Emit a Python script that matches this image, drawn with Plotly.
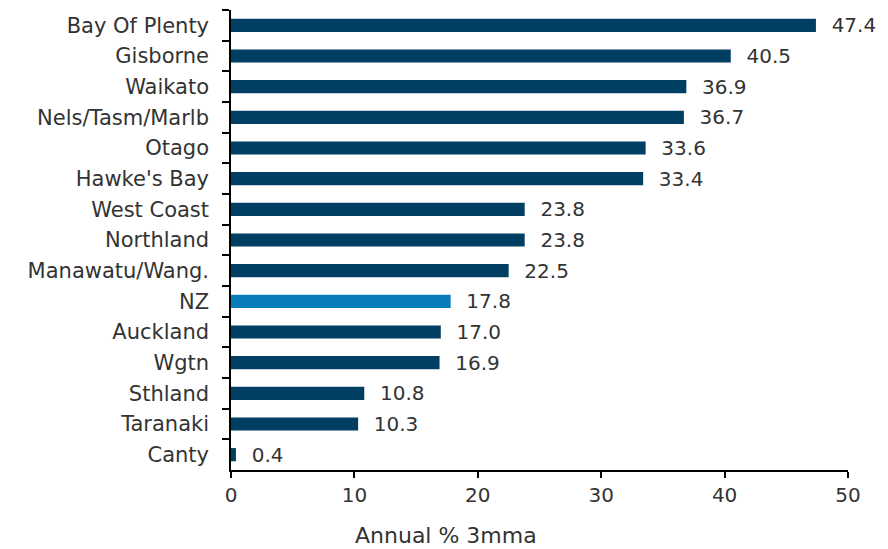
import plotly.graph_objects as go

regions = ["Bay Of Plenty", "Gisborne", "Waikato", "Nels/Tasm/Marlb", "Otago", "Hawke's Bay",
           "West Coast", "Northland", "Manawatu/Wang.", "NZ", "Auckland", "Wgtn", "Sthland",
           "Taranaki", "Canty"]
values = [47.4, 40.5, 36.9, 36.7, 33.6, 33.4, 23.8, 23.8, 22.5, 17.8, 17.0, 16.9, 10.8, 10.3, 0.4]
x_ticks = [0, 10, 20, 30, 40, 50]

navy = "#013F62"
light = "#0A7CBA"
colors = [light if r == "NZ" else navy for r in regions]

font_family = "DejaVu Sans"
text_col = "#333333"
fs = 20

fig = go.Figure(go.Bar(
    y=regions, x=values, orientation="h",
    marker=dict(color=colors, line=dict(width=0)),
    text=["  " + f"{v:.1f}" for v in values],
    textposition="outside", cliponaxis=False, constraintext="none",
    textfont=dict(family=font_family, size=fs, color=text_col),
))

fig.update_layout(
    width=880, height=541,
    margin=dict(l=223, r=40, t=2, b=79),
    paper_bgcolor="white", plot_bgcolor="white",
    bargap=0.57, showlegend=False,
    font=dict(family=font_family, size=fs, color=text_col),
)
fig.update_yaxes(
    autorange="reversed", showline=True, linecolor="black", linewidth=1.5,
    ticks="outside", tickson="boundaries", ticklen=7, tickcolor="black", tickwidth=1.5,
    showgrid=False, ticklabelstandoff=16, automargin=False,
    tickfont=dict(family=font_family, size=21, color=text_col),
)
fig.update_xaxes(
    range=[0, 50], tickvals=x_ticks, showline=True, linecolor="black", linewidth=1.5,
    ticks="outside", ticklen=6, tickcolor="black", tickwidth=1.5, showgrid=False, zeroline=False,
    automargin=False,
    tickfont=dict(family=font_family, size=fs, color=text_col),
)
fig.add_annotation(text="Annual % 3mma", xref="paper", yref="paper", x=0.348, y=0,
                   yshift=-51, showarrow=False, xanchor="center", yanchor="top",
                   font=dict(family=font_family, size=22, color=text_col))

fig.write_html("out.html")
